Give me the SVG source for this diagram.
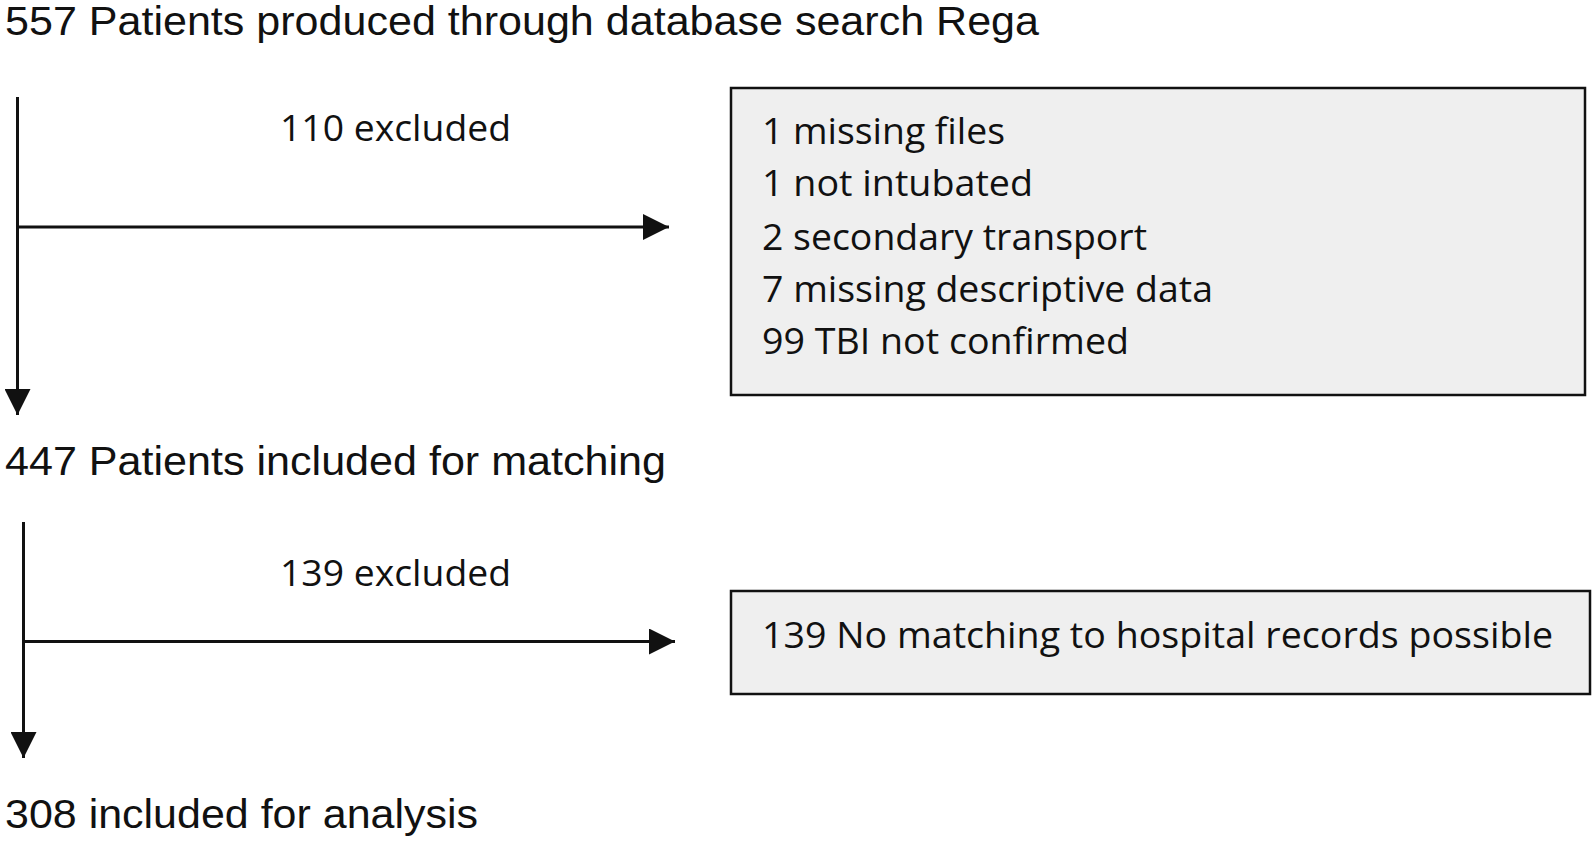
<svg xmlns="http://www.w3.org/2000/svg" width="1594" height="842" viewBox="0 0 1594 842">
<style>
.main{font-family:"Liberation Sans",Arial,sans-serif;font-size:40px;fill:#111}
.cal{font-family:"Open Sans","Noto Sans",sans-serif;font-size:36px;fill:#111}
.box{fill:#efefef;stroke:#111;stroke-width:2.5}
.conn{stroke:#111;stroke-width:3;fill:none}
</style>
<defs>
<marker id="ah" markerUnits="userSpaceOnUse" markerWidth="26" markerHeight="26" refX="26" refY="13" orient="auto">
<path d="M0,0 L26,13 L0,26 z" fill="#111"/>
</marker>
</defs>
<rect width="1594" height="842" fill="#fff"/>
<g id="n1"><text class="main" x="5" y="35" font-size="39" textLength="1034" lengthAdjust="spacingAndGlyphs">557 Patients produced through database search Rega</text></g>
<g id="n2"><text class="main" x="5" y="475" textLength="661" lengthAdjust="spacingAndGlyphs">447 Patients included for matching</text></g>
<g id="n3"><text class="main" x="5" y="828" textLength="473" lengthAdjust="spacingAndGlyphs">308 included for analysis</text></g>
<g id="e1-label"><text class="cal" x="280" y="141" textLength="231" lengthAdjust="spacingAndGlyphs">110 excluded</text></g>
<g id="e2-label"><text class="cal" x="280" y="586" textLength="231" lengthAdjust="spacingAndGlyphs">139 excluded</text></g>
<g id="box1">
<rect class="box" x="731" y="88" width="854" height="307"/>
<text class="cal" x="762" y="144" textLength="243" lengthAdjust="spacingAndGlyphs">1 missing files</text>
<text class="cal" x="762" y="196" textLength="271" lengthAdjust="spacingAndGlyphs">1 not intubated</text>
<text class="cal" x="762" y="250" textLength="385" lengthAdjust="spacingAndGlyphs">2 secondary transport</text>
<text class="cal" x="762" y="302" textLength="451" lengthAdjust="spacingAndGlyphs">7 missing descriptive data</text>
<text class="cal" x="762" y="354" textLength="367" lengthAdjust="spacingAndGlyphs">99 TBI not confirmed</text>
</g>
<g id="box2">
<rect class="box" x="731" y="591" width="859" height="103"/>
<text class="cal" x="762" y="648" textLength="791" lengthAdjust="spacingAndGlyphs">139 No matching to hospital records possible</text>
</g>
<g id="connectors">
<line class="conn" x1="17.5" y1="97" x2="17.5" y2="415" marker-end="url(#ah)"/>
<line class="conn" x1="19" y1="227" x2="669" y2="227" marker-end="url(#ah)"/>
<line class="conn" x1="23.5" y1="522" x2="23.5" y2="758" marker-end="url(#ah)"/>
<line class="conn" x1="25" y1="641.5" x2="675" y2="641.5" marker-end="url(#ah)"/>
</g>
</svg>
